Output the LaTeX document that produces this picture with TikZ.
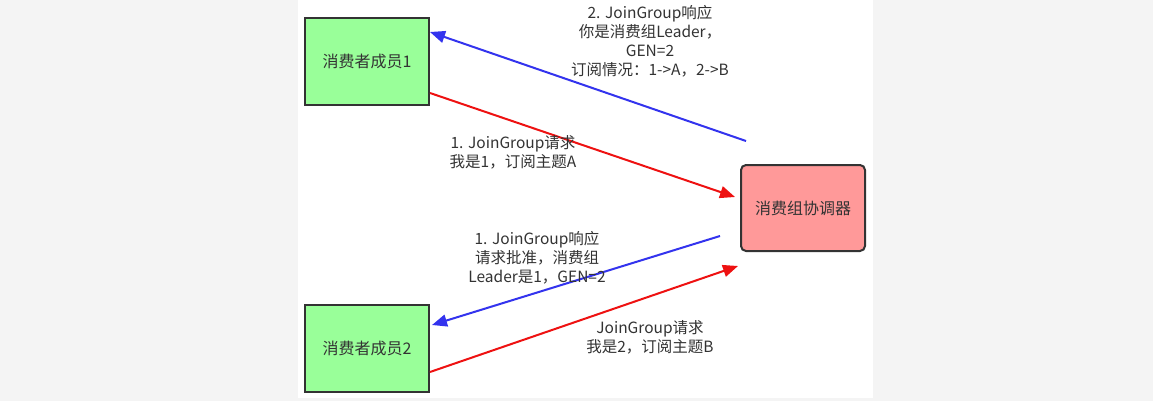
\documentclass[tikz,border=0pt]{standalone}
\usepackage{fontspec}
\setmainfont{Noto Sans CJK SC}
\usetikzlibrary{arrows.meta}
\definecolor{bggray}{HTML}{F4F4F4}
\definecolor{boxgreen}{HTML}{99FF99}
\definecolor{boxred}{HTML}{FF9999}
\definecolor{txt}{HTML}{333333}
\definecolor{bluel}{HTML}{3333EE}
\definecolor{redl}{HTML}{EE1111}
\tikzset{
  member/.style={draw=txt, line width=2pt, fill=boxgreen, minimum width=124pt, minimum height=87pt, font=\fontsize{16}{18}\selectfont, text=txt, inner sep=0pt},
  coord/.style={draw=txt, line width=2pt, fill=boxred, rounded corners=5pt, minimum width=124pt, minimum height=86pt, font=\fontsize{16}{18}\selectfont, text=txt, inner sep=0pt},
  lbl/.style={align=center, font=\fontsize{15.5}{19}\selectfont, text=txt, inner sep=0pt},
  bluearrow/.style={draw=bluel, line width=2pt, -{Triangle[length=15pt,width=12pt]}},
  redarrow/.style={draw=redl, line width=2pt, -{Triangle[length=15pt,width=12pt]}},
}
\begin{document}
\begin{tikzpicture}[x=1pt,y=-1pt]
\fill[bggray] (0,0) rectangle (1153,401);
\fill[white] (298,0) rectangle (873,398);
\useasboundingbox (0,0) rectangle (1153,401);

\node[member] (m1) at (367,61.5) {消费者成员1};
\node[member] (m2) at (367,348.5) {消费者成员2};
\node[coord] (c) at (803,208) {消费组协调器};

\draw[bluearrow] ([xshift=6pt,yshift=23pt]c.north west) -- ([yshift=29.5pt]m1.east);
\draw[redarrow] ([yshift=-31.5pt]m1.east) -- ([xshift=-5pt,yshift=11pt]c.west);
\draw[bluearrow] ([xshift=-20pt,yshift=-28pt]c.west) -- ([xshift=2pt,yshift=23.5pt]m2.east);
\draw[redarrow] ([yshift=-23.5pt]m2.east) -- ([xshift=-2pt,yshift=-14pt]c.south west);

\node[lbl] (t1) at (650,41) {2. JoinGroup响应\\你是消费组Leader，\\GEN=2\\订阅情况：1->A，2->B};
\node[lbl] (t2) at (513,152) {1. JoinGroup请求\\我是1，订阅主题A};
\node[lbl] (t3) at (537,258) {1. JoinGroup响应\\请求批准，消费组\\Leader是1，GEN=2};
\node[lbl] (t4) at (650,337) {JoinGroup请求\\我是2，订阅主题B};
\end{tikzpicture}
\end{document}
